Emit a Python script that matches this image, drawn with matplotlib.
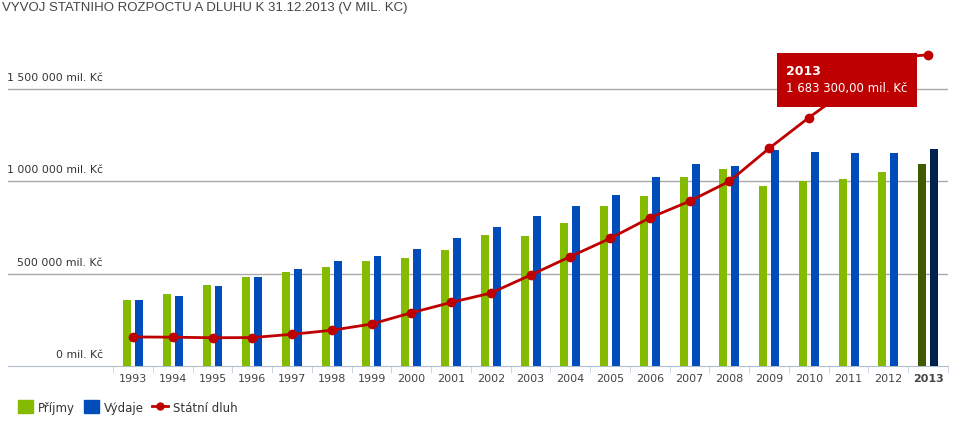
import numpy as np
import matplotlib
matplotlib.use('Agg')
import matplotlib.pyplot as plt
from matplotlib.patches import Patch, Rectangle
from matplotlib.lines import Line2D
from matplotlib.transforms import IdentityTransform

#~~~~~~Data (mil. Kc)~~~~~~
years  = ['1993', '1994', '1995', '1996', '1997', '1998', '1999', '2000', '2001', '2002', '2003',
          '2004', '2005', '2006', '2007', '2008', '2009', '2010', '2011', '2012', '2013']
prijmy = [358000, 390500, 440000, 482800, 509000, 537400, 567300, 586200, 626200, 707700, 702300,
          774800, 868600, 923000, 1025900, 1063900, 974600, 1000300, 1012800, 1051400, 1091900]
vydaje = [356900, 379500, 432700, 484400, 524700, 566700, 596900, 632300, 693900, 753800, 811300,
          868400, 925300, 1020600, 1092300, 1083900, 1167000, 1156800, 1155500, 1152400, 1173100]
dluh   = [158800, 157300, 154400, 155200, 173100, 194700, 228400, 289300, 345000, 395900, 493200,
          592900, 691200, 802500, 892300, 999800, 1178200, 1344100, 1499400, 1667600, 1683300]
yticks = [0, 500000, 1000000, 1500000]

#~~~~~~Colors~~~~~~
GREEN, BLUE = '#84BA00', '#004CBB'
GREEN_HI, BLUE_HI = '#3F5B00', '#00214F'
RED = '#BE0000'

plt.rcParams['font.family'] = ['DejaVu Sans']

W, H = 965, 439
fig = plt.figure(figsize=(W / 100, H / 100), dpi=100)

# plot area in pixels: left 8, right 948, top 30, bottom 367
ax = fig.add_axes([8 / W, (H - 367.3) / H, 940 / W, (367.3 - 30) / H])
ax.set_xlim(-3.145, 20.5)
ax.set_ylim(0, (367.3 - 30) / 185 * 1e6)

x = np.arange(len(years))
last = len(years) - 1
gcol = [GREEN] * last + [GREEN_HI]
bcol = [BLUE] * last + [BLUE_HI]
ax.bar(x - 0.15, prijmy, width=0.2, color=gcol, zorder=3)
ax.bar(x + 0.15, vydaje, width=0.2, color=bcol, zorder=3)
ax.plot(x, dluh, color=RED, lw=2, marker='o', ms=6, zorder=4)

# grid lines + y labels above them
for v in yticks[1:]:
    ax.axhline(v, color='#AAAAAA', lw=1, zorder=1)
lab_tr = ax.get_yaxis_transform()
for v in yticks:
    s = '{:,}'.format(v).replace(',', ' ') + ' mil. Kč'
    ax.annotate(s, xy=(0.101, v), xycoords=lab_tr, xytext=(0, 5), textcoords='offset points',
                ha='right', va='bottom', fontsize=7.8, color='#333333')

for side in ['top', 'right', 'left']:
    ax.spines[side].set_visible(False)
ax.spines['bottom'].set_color('#B0BCCB')
ax.set_yticks([])

ax.set_xticks(x)
ax.set_xticklabels(years, fontsize=8, color='#444444')
ax.get_xticklabels()[-1].set_fontweight('bold')
ax.tick_params(axis='x', which='major', length=0, pad=5)
ax.set_xticks(np.arange(len(years) + 1) - 0.5, minor=True)
ax.tick_params(axis='x', which='minor', length=5, color='#C0D0E0')

# tooltip for last year: box to the left of the last point (pixels)
px = 72 / 100
p0 = ax.transData.transform((last, dluh[-1]))
ax.add_patch(Rectangle((p0[0] - 151, p0[1] - 52), 140, 54, transform=IdentityTransform(),
                       fc=RED, ec='none', clip_on=False, zorder=6))
val = '{:,.2f}'.format(dluh[-1]).replace(',', ' ').replace('.', ',')
ax.annotate(years[-1], xy=(last, dluh[-1]), xytext=(-142 * px, -16 * px), textcoords='offset points',
            ha='left', va='center', fontsize=9, color='white', fontweight='bold', zorder=7)
ax.annotate(val + ' mil. Kč', xy=(last, dluh[-1]), xytext=(-142 * px, -33 * px),
            textcoords='offset points', ha='left', va='center', fontsize=8.5, color='white', zorder=7)

fig.text(1.5 / W, 1 - 8 / H, 'VYVOJ STATNIHO ROZPOCTU A DLUHU K 31.12.2013 (V MIL. KC)',
         fontsize=9.5, color='#444444', family='Liberation Sans', va='center', ha='left')

handles = [Patch(color=GREEN, label='Příjmy'), Patch(color=BLUE, label='Výdaje'),
           Line2D([], [], color=RED, lw=2, marker='o', ms=5, label='Státní dluh')]
fig.legend(handles=handles, loc='center left', bbox_to_anchor=(7 / W, 1 - 408 / H), ncol=3,
           frameon=False, fontsize=8.5, handlelength=1.3, handleheight=1.3, handletextpad=0.45,
           columnspacing=0.7, labelcolor='#333333')

fig.savefig('out.png', dpi=100)
